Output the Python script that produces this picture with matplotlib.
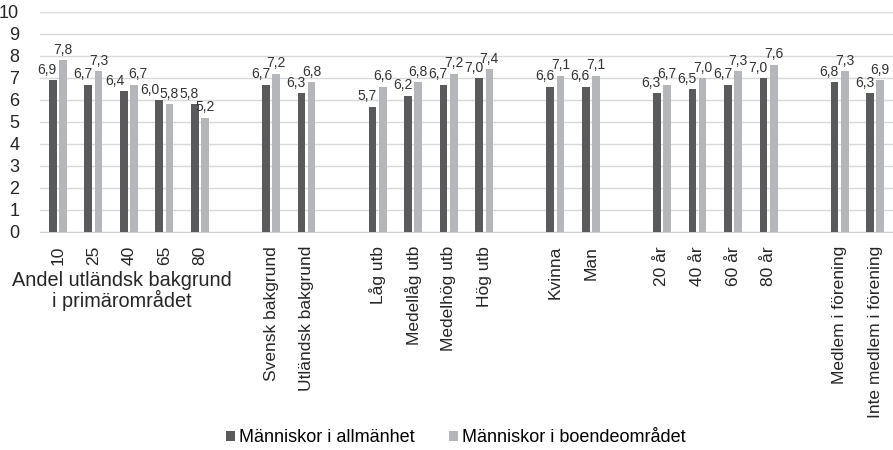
import numpy as np
import matplotlib
matplotlib.use("Agg")
import matplotlib.pyplot as plt

plt.rcParams['font.family'] = ['Liberation Sans', 'DejaVu Sans']

# empty strings are the gaps between groups
labels = ['10', '25', '40', '65', '80', '',
          'Svensk bakgrund', 'Utländsk bakgrund', '',
          'Låg utb', 'Medellåg utb', 'Medelhög utb', 'Hög utb', '',
          'Kvinna', 'Man', '',
          '20 år', '40 år', '60 år', '80 år', '',
          'Medlem i förening', 'Inte medlem i förening']
allmanhet = [6.9, 6.7, 6.4, 6.0, 5.8, np.nan,
             6.7, 6.3, np.nan,
             5.7, 6.2, 6.7, 7.0, np.nan,
             6.6, 6.6, np.nan,
             6.3, 6.5, 6.7, 7.0, np.nan,
             6.8, 6.3]
boende = [7.8, 7.3, 6.7, 5.8, 5.2, np.nan,
          7.2, 6.8, np.nan,
          6.6, 6.8, 7.2, 7.4, np.nan,
          7.1, 7.1, np.nan,
          6.7, 7.0, 7.3, 7.6, np.nan,
          7.3, 6.9]
series_names = ['Människor i allmänhet', 'Människor i boendeområdet']
group_title = 'Andel utländsk bakgrund\ni primärområdet'

dark = '#5a5a5c'
light = '#b5b6b9'

fig = plt.figure(figsize=(8.93, 4.5), dpi=100)
ax = fig.add_axes([40/893, 1 - 232/450, 1 - 40/893, 220/450])

x = np.arange(len(labels))
w = 0.215
off = 0.143
b1 = ax.bar(x - off, allmanhet, w, color=dark, label=series_names[0], zorder=3)
b2 = ax.bar(x + off, boende, w, color=light, label=series_names[1], zorder=3)

def fmt(v):
    return f'{v:.1f}'.replace('.', ',')

# dark labels sit a little left of their bar; when both values are
# close the labels are pushed further apart so they don't collide
for rd, rl, va, vb in zip(b1, b2, allmanhet, boende):
    if np.isnan(va):
        continue
    diff = vb - va
    close = abs(diff) < 0.35
    dxa = -6.5 if close else -4
    dxb = 3 if (close and diff > 0) else 0
    ax.annotate(fmt(va), (rd.get_x() + rd.get_width() / 2, va),
                xytext=(dxa, 2.5), textcoords='offset points',
                ha='center', va='bottom', fontsize=10, color='#333333')
    ax.annotate(fmt(vb), (rl.get_x() + rl.get_width() / 2, vb),
                xytext=(dxb, 2.5), textcoords='offset points',
                ha='center', va='bottom', fontsize=10, color='#333333')

ax.set_ylim(0, 10)
ax.set_yticks(range(0, 11))
ax.set_xlim(-0.5, 23.5)
ax.set_xticks(x)
ax.set_xticklabels(labels, rotation=90, fontsize=12.5, color='#262626')
ax.tick_params(axis='x', length=0, pad=10)
ax.tick_params(axis='y', length=0, labelsize=13, labelcolor='#262626', pad=15)
ax.yaxis.grid(True, color='#d9d9d9', linewidth=1, zorder=0)
for s in ['top', 'right', 'left']:
    ax.spines[s].set_visible(False)
ax.spines['bottom'].set_color('#d0d0d0')

ax.text(121.5/893, 1 - 271/450, group_title, transform=fig.transFigure,
        ha='center', va='top', fontsize=14.3, color='#262626',
        linespacing=0.98)

fig.legend(handles=[b1, b2], labels=series_names, loc='center',
           bbox_to_anchor=(456/893, 1 - 438/450), ncol=2, frameon=False,
           handlelength=0.5, handleheight=0.5, handletextpad=0.22,
           columnspacing=1.9, borderpad=0, prop={'size': 13})

fig.savefig('out.png', dpi=100)
